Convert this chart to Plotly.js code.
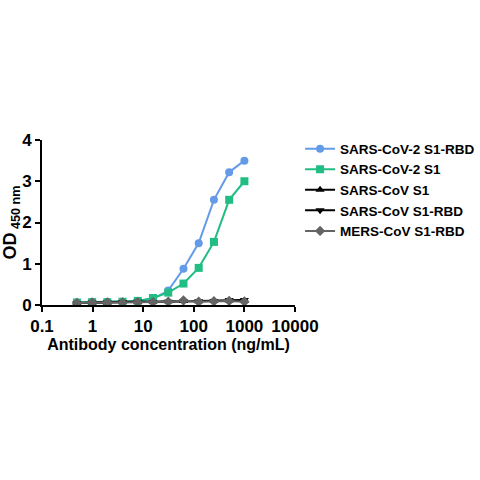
<!DOCTYPE html>
<html>
<head>
<meta charset="utf-8">
<script src="https://cdn.plot.ly/plotly-3.0.1.min.js"></script>
<style>body{margin:0;background:#fff}#plotter{width:480px;height:480px}</style>
</head>
<body>
<div id="plotter"></div>
<script>
// antibody concentrations (ng/mL), two-fold dilution from 1000
let conc = [0.49, 0.98, 1.95, 3.9, 7.8, 15.6, 31.25, 62.5, 125, 250, 500, 1000];

let names = ['SARS-CoV-2 S1-RBD', 'SARS-CoV-2 S1', 'SARS-CoV S1', 'SARS-CoV S1-RBD', 'MERS-CoV S1-RBD'];
let cov2Rbd = [0.06, 0.07, 0.07, 0.08, 0.10, 0.15, 0.35, 0.88, 1.50, 2.55, 3.22, 3.50];
let cov2S1  = [0.06, 0.07, 0.07, 0.08, 0.10, 0.17, 0.30, 0.52, 0.90, 1.53, 2.55, 3.00];
let covS1   = [0.05, 0.06, 0.06, 0.07, 0.08, 0.08, 0.09, 0.10, 0.09, 0.10, 0.11, 0.11];
let covRbd  = [0.05, 0.06, 0.06, 0.07, 0.08, 0.07, 0.08, 0.09, 0.09, 0.10, 0.12, 0.12];
let mersRbd = [0.05, 0.06, 0.06, 0.06, 0.07, 0.07, 0.08, 0.11, 0.08, 0.09, 0.10, 0.08];

let colors = ['rgb(100,155,232)', 'rgb(32,190,130)', 'rgb(0,0,0)', 'rgb(0,0,0)', 'rgb(100,100,100)'];
let symbols = ['circle', 'square', 'triangle-up', 'triangle-down', 'diamond'];
let series = [cov2Rbd, cov2S1, covS1, covRbd, mersRbd];

let traces = [];
for (let i = 0; i < series.length; i++) {
    traces.push({
        x: conc,
        y: series[i],
        name: names[i],
        type: 'scatter',
        mode: 'lines+markers',
        line: {color: colors[i], width: 2},
        marker: {symbol: symbols[i], size: 8, color: colors[i]},
    });
}

let fam = 'Liberation Sans, Arial, sans-serif';
let layout = {
    width: 480, height: 480,
    margin: {l: 42, r: 185, t: 140, b: 175, autoexpand: false},
    paper_bgcolor: '#fff', plot_bgcolor: '#fff',
    showlegend: true,
    legend: {
        x: 1.02, y: 1.04, xanchor: 'left', yanchor: 'top',
        traceorder: 'normal',
        font: {family: fam, size: 13.5, color: '#000', weight: 'bold'},
        itemwidth: 30, tracegroupgap: 0,
    },
    xaxis: {
        type: 'log', range: [-1, 4],
        tickvals: [0.1, 1, 10, 100, 1000, 10000],
        ticktext: ['0.1', '1', '10', '100', '1000', '10000'],
        showgrid: false, zeroline: false,
        showline: true, linecolor: '#000', linewidth: 2,
        ticks: 'outside', ticklen: 5, tickwidth: 2, tickcolor: '#000',
        tickfont: {family: fam, size: 17, color: '#000', weight: 'bold'},
        title: {text: 'Antibody concentration (ng/mL)', standoff: 2,
                font: {family: fam, size: 16, color: '#000', weight: 'bold'}},
    },
    yaxis: {
        range: [0, 4], tickvals: [0, 1, 2, 3, 4],
        showgrid: false, zeroline: false,
        showline: true, linecolor: '#000', linewidth: 2,
        ticks: 'outside', ticklen: 5, tickwidth: 2, tickcolor: '#000',
        tickfont: {family: fam, size: 17, color: '#000', weight: 'bold'},
        title: {text: 'OD<sub> 450 nm</sub>', standoff: 4,
                font: {family: fam, size: 18, color: '#000', weight: 'bold'}},
    },
};

Plotly.newPlot(document.getElementById('plotter'), traces, layout, {staticPlot: true});
</script>
</body>
</html>
